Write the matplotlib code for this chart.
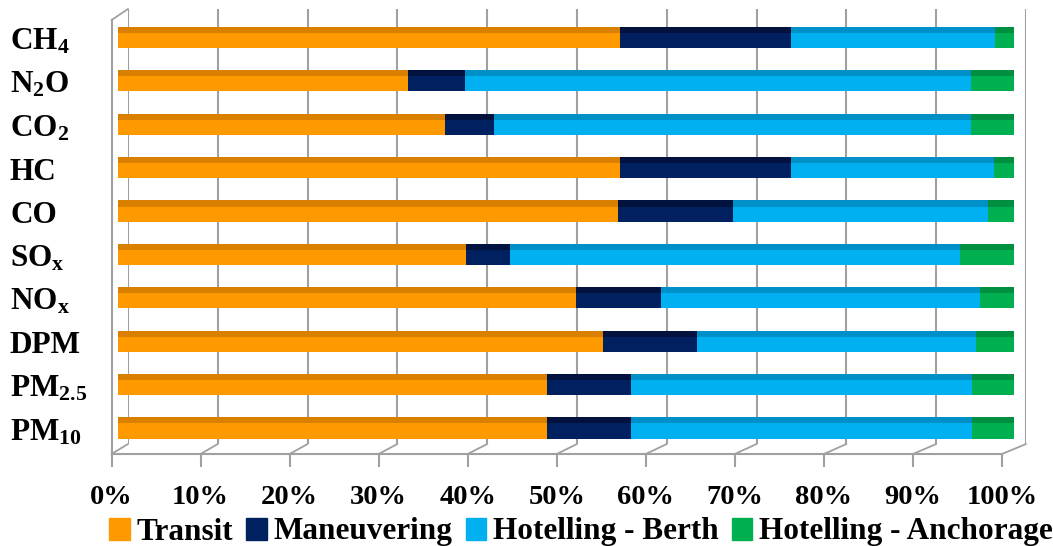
import matplotlib
matplotlib.use("Agg")
import matplotlib.pyplot as plt
import numpy as np
import matplotlib.transforms as mtransforms
from matplotlib.patches import Patch, ConnectionPatch
from matplotlib.ticker import PercentFormatter

plt.rcParams["font.family"] = ["Liberation Serif", "DejaVu Serif"]
plt.rcParams["font.weight"] = "bold"
plt.rcParams["mathtext.fontset"] = "custom"
plt.rcParams["mathtext.rm"] = "Liberation Serif:bold"
plt.rcParams["mathtext.bf"] = "Liberation Serif:bold"
plt.rcParams["mathtext.it"] = "Liberation Serif:bold:italic"

# Share of emissions (%) by operating mode for each pollutant
pollutants = ["CH$_4$", "N$_2$O", "CO$_2$", "HC", "CO", r"SO$_\mathrm{x}$",
              r"NO$_\mathrm{x}$", "DPM", "PM$_{2.5}$", "PM$_{10}$"]
modes = ["Transit", "Maneuvering", "Hotelling - Berth", "Hotelling - Anchorage"]
transit     = [56.1, 32.4, 36.5, 56.1, 55.8, 38.9, 51.2, 54.2, 47.9, 47.9]
maneuvering = [19.1,  6.4,  5.5, 19.1, 12.9,  4.9,  9.4, 10.5,  9.4,  9.4]
berth       = [22.7, 56.4, 53.2, 22.6, 28.4, 50.2, 35.7, 31.1, 38.1, 38.1]
anchorage   = [ 2.1,  4.8,  4.8,  2.2,  2.9,  6.0,  3.7,  4.2,  4.6,  4.6]
pct_ticks = [0, 10, 20, 30, 40, 50, 60, 70, 80, 90, 100]

front_colors = ["#FF9900", "#002060", "#00B0F0", "#00B050"]
top_colors = ["#D98000", "#00123D", "#0090C8", "#008F40"]
side_color = "#007A33"
grid_color = "#A0A0A0"

W, H = 1053, 546
fig = plt.figure(figsize=(W / 100, H / 100), dpi=100)


def box(x0, y0, x1, y1):
    """Axes rectangle from pixel edges measured from the top-left corner."""
    return [x0 / W, 1 - y1 / H, (x1 - x0) / W, (y1 - y0) / H]


# Back wall with the vertical gridlines
ax_back = fig.add_axes(box(128, 9, 1026, 444), zorder=0)
ax_back.set_xlim(0, 100)
ax_back.set_ylim(0, 1)
for t in pct_ticks:
    ax_back.axvline(t, color=grid_color, lw=1.5)
ax_back.set_axis_off()

# Front frame carrying the percentage axis
ax_front = fig.add_axes(box(111.5, 20, 1002, 454), zorder=1)
ax_front.patch.set_visible(False)
ax_front.set_xlim(0, 100)
ax_front.set_ylim(0, 1)
for side in ("top", "right"):
    ax_front.spines[side].set_visible(False)
for side in ("left", "bottom"):
    ax_front.spines[side].set_color(grid_color)
    ax_front.spines[side].set_linewidth(1.5)
ax_front.set_yticks([])
ax_front.set_xticks(pct_ticks)
ax_front.xaxis.set_major_formatter(PercentFormatter(100, decimals=0))
ax_front.tick_params(axis="x", direction="out", length=9, width=1.5,
                     color=grid_color, labelsize=20.5, pad=13)

# Floor edges joining the front frame to the back wall
for t in pct_ticks:
    fig.add_artist(ConnectionPatch(xyA=(t, 0), coordsA=ax_front.transData,
                                   xyB=(t, 0), coordsB=ax_back.transData,
                                   color=grid_color, lw=1.3, zorder=0.5))
fig.add_artist(ConnectionPatch(xyA=(0, 1), coordsA=ax_front.transAxes,
                               xyB=(0, 1), coordsB=ax_back.transAxes,
                               color=grid_color, lw=1.3, zorder=0.5))

# Stacked bars
ax = fig.add_axes(box(117.6, 9, 1013.6, 454), zorder=2)
ax.patch.set_visible(False)
ax.set_axis_off()
ax.set_xlim(0, 100)
ax.set_ylim(9.53, -0.725)

y = np.arange(len(pollutants))
series = np.array([transit, maneuvering, berth, anchorage], dtype=float)
shares = series / series.sum(axis=0) * 100
front_h = 0.346
top_h = 0.14
left = np.zeros(len(pollutants))
for vals, fc, tc in zip(shares, front_colors, top_colors):
    ax.barh(y, vals, left=left, height=front_h, color=fc, linewidth=0)
    ax.barh(y - front_h / 2 - top_h / 2, vals, left=left, height=top_h,
            color=tc, linewidth=0)
    left = left + vals
# right end face of each bar
ax.barh(y - top_h / 2, 0.7, left=left, height=front_h + top_h,
        color=side_color, linewidth=0)

# Pollutant names
label_tr = mtransforms.offset_copy(
    mtransforms.blended_transform_factory(fig.transFigure, ax.transData),
    fig=fig, x=0, y=-9, units="dots")
for yi, name in zip(y, pollutants):
    fig.text(10 / W, yi, name, transform=label_tr, fontsize=22.5,
             fontweight="bold", ha="left", va="baseline")

handles = [Patch(facecolor=c, edgecolor=c) for c in front_colors]
fig.legend(handles, modes, loc="center", bbox_to_anchor=(581 / W, 1 - 532 / H),
           ncol=4, frameon=False, prop={"size": 22.5, "weight": "bold"},
           handlelength=0.65, handleheight=0.7, handletextpad=0.22,
           columnspacing=0.42, borderaxespad=0, borderpad=0)

fig.savefig("out.png", dpi=100)
